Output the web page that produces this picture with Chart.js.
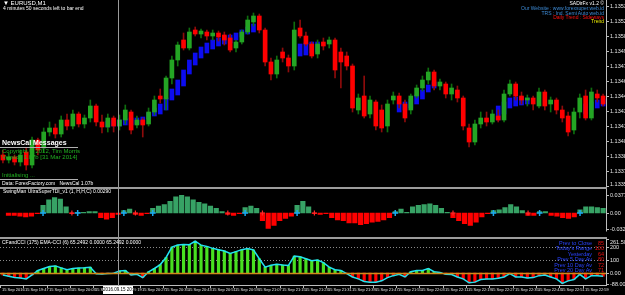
<!DOCTYPE html>
<html>
<head>
<meta charset="utf-8">
<script src="https://cdn.jsdelivr.net/npm/chart.js@4.4.1/dist/chart.umd.min.js"></script>
<style>
  html, body { margin: 0; padding: 0; background: #000; }
  body { width: 625px; height: 295px; position: relative; overflow: hidden; font-family: 'Liberation Sans', Arial, sans-serif; }
  canvas { position: absolute; left: 0; }
  .t { position: absolute; white-space: nowrap; line-height: 1; }
  .r { text-align: right; }
  .sep { position: absolute; left: 0; width: 607px; height: 2px; background: #9c9c9c; }
</style>
</head>
<body>
<canvas id="price" width="625" height="187" style="top:0"></canvas>
<canvas id="tdi" width="625" height="48" style="top:189px"></canvas>
<canvas id="cci" width="625" height="56" style="top:239px"></canvas>

<div class="sep" style="top:187px"></div>
<div class="sep" style="top:237px"></div>
<div style="position:absolute;left:118px;top:0;width:1px;height:286px;background:#9a9a9a"></div>

<div class="t" style="left:3px;top:0px;font-size:6px;color:#fff">&#9660; EURUSD,M1</div>
<div class="t" style="left:3px;top:6px;font-size:5px;color:#fff">4 minutes 50 seconds left to bar end</div>

<div class="t r" style="right:21px;top:1px;font-size:5px;color:#fff">SADirFx v1.2 &#169;</div>
<div class="t r" style="right:21px;top:6px;font-size:5px;color:#3d8bd6">Our Website : www.forexsuper.web.id</div>
<div class="t r" style="right:21px;top:10.5px;font-size:5px;color:#3d8bd6">TRS : Ind. Semi Auto web.id</div>
<div class="t r" style="right:21px;top:14.5px;font-size:5px;color:#ff1010">Daily Trend : Sideways</div>
<div class="t r" style="right:21px;top:18.5px;font-size:5px;color:#f0f000">Trend</div>

<div class="t" style="left:2px;top:139px;font-size:7px;font-weight:bold;color:#fff">NewsCal Messages</div>
<div style="position:absolute;left:0;top:147px;width:78px;height:1px;background:#b0b0b0"></div>
<div class="t" style="left:2px;top:148px;font-size:6px;color:#20b020">Copyright &#169; 2012, Tim Morris</div>
<div class="t" style="left:2px;top:154px;font-size:6px;color:#20b020">Version 1.07b [31 Mar 2014]</div>
<div class="t" style="left:2px;top:172px;font-size:6px;color:#20b020">Initialising ...</div>
<div style="position:absolute;left:0;top:179px;width:78px;height:1px;background:#b0b0b0"></div>
<div class="t" style="left:2px;top:180.5px;font-size:5px;color:#fff">Data: ForexFactory.com &nbsp; NewsCal 1.07b</div>

<div class="t" style="left:3px;top:189px;font-size:5px;color:#fff">SwingMan UltraSuperTDI_v1 (1, H,H,C) 0.00290</div>
<div class="t" style="left:2px;top:239.5px;font-size:5px;color:#fff">CFandCCI (175) EMA-CCI (6) 65.2492 0.0000 65.2492 0.0000</div>

<div class="t r" style="right:33px;top:240.5px;font-size:5.5px;color:#2a44ff">Prev to Close</div>
<div class="t r" style="right:33px;top:246px;font-size:5.5px;color:#2a44ff">Today's Range</div>
<div class="t r" style="right:33px;top:251.5px;font-size:5.5px;color:#2a44ff">Yesterday</div>
<div class="t r" style="right:33px;top:257px;font-size:5.5px;color:#2a44ff">Prev 5 Day Av</div>
<div class="t r" style="right:33px;top:262.5px;font-size:5.5px;color:#2a44ff">Prev 10 Day Av</div>
<div class="t r" style="right:33px;top:268px;font-size:5.5px;color:#2a44ff">Prev 20 Day Av</div>
<div class="t r" style="right:21px;top:240.5px;font-size:5.5px;color:#e81010">85</div>
<div class="t r" style="right:21px;top:246px;font-size:5.5px;color:#e81010">100</div>
<div class="t r" style="right:21px;top:251.5px;font-size:5.5px;color:#e81010">64</div>
<div class="t r" style="right:21px;top:257px;font-size:5.5px;color:#e81010">80</div>
<div class="t r" style="right:21px;top:262.5px;font-size:5.5px;color:#e81010">72</div>
<div class="t r" style="right:21px;top:268px;font-size:5.5px;color:#e81010">71</div>

<div class="t" style="left:103px;top:285.5px;width:30px;height:8px;background:#fff;color:#000;font-size:4.5px;line-height:8px;text-align:center">2016.09.15 20:19</div>

<script>
// EURUSD M1, 15 Sep 2016 - one entry per 2 minutes
const opens = [1.13386,1.13381,1.13384,1.13379,1.13389,1.13376,1.13401,1.13393,1.13409,1.13413,
  1.13407,1.13421,1.13415,1.13427,1.13417,1.13423,1.13435,1.13419,1.13414,1.13423,
  1.13415,1.13421,1.13429,1.13416,1.13421,1.13417,1.13429,1.13445,1.13442,1.13463,
  1.13481,1.13501,1.13493,1.13511,1.13507,1.13509,1.13505,1.13508,1.13506,1.13503,
  1.13493,1.13499,1.13509,1.13519,1.13525,1.13511,1.13479,1.13467,1.13489,1.13483,
  1.13475,1.13513,1.13505,1.13497,1.13487,1.13499,1.13497,1.13501,1.13489,1.13485,
  1.13475,1.13431,1.13445,1.13427,1.13439,1.13431,1.13415,1.13441,1.13445,1.13437,
  1.13431,1.13445,1.13453,1.13461,1.13469,1.13455,1.13457,1.13447,1.13451,1.13443,
  1.13413,1.13399,1.13417,1.13423,1.13419,1.13425,1.13421,1.13447,1.13457,1.13445,
  1.13441,1.13443,1.13435,1.13449,1.13437,1.13441,1.13431,1.13425,1.13411,1.13429,
  1.13445,1.13423,1.13447,1.13445];
const closes = [1.13381,1.13384,1.13379,1.13386,1.13376,1.13401,1.13391,1.13409,1.13413,1.13407,
  1.13421,1.13415,1.13427,1.13417,1.13423,1.13435,1.13419,1.13414,1.13423,1.13415,
  1.13421,1.13431,1.13411,1.13421,1.13416,1.13429,1.13441,1.13442,1.13463,1.13481,
  1.13496,1.13493,1.13509,1.13507,1.13510,1.13505,1.13508,1.13504,1.13501,1.13491,
  1.13499,1.13509,1.13521,1.13525,1.13511,1.13479,1.13467,1.13481,1.13483,1.13475,
  1.13511,1.13505,1.13497,1.13485,1.13497,1.13495,1.13501,1.13471,1.13479,1.13475,
  1.13433,1.13443,1.13425,1.13441,1.13415,1.13413,1.13437,1.13445,1.13437,1.13423,
  1.13445,1.13453,1.13461,1.13469,1.13455,1.13459,1.13447,1.13453,1.13443,1.13415,
  1.13399,1.13417,1.13423,1.13419,1.13427,1.13421,1.13447,1.13457,1.13445,1.13441,
  1.13443,1.13437,1.13449,1.13435,1.13441,1.13431,1.13423,1.13409,1.13429,1.13443,
  1.13423,1.13449,1.13443,1.13437];
const highs = [1.13391,1.13388,1.13386,1.13391,1.13393,1.13404,1.13403,1.13413,1.13419,1.13417,
  1.13425,1.13427,1.13431,1.13429,1.13426,1.13441,1.13437,1.13426,1.13427,1.13425,
  1.13426,1.13436,1.13431,1.13425,1.13423,1.13433,1.13445,1.13452,1.13465,1.13485,
  1.13499,1.13508,1.13513,1.13514,1.13512,1.13511,1.13511,1.13510,1.13509,1.13507,
  1.13501,1.13511,1.13525,1.13528,1.13527,1.13513,1.13483,1.13485,1.13493,1.13486,
  1.13519,1.13521,1.13509,1.13499,1.13501,1.13503,1.13504,1.13503,1.13493,1.13489,
  1.13477,1.13447,1.13465,1.13445,1.13441,1.13436,1.13441,1.13449,1.13448,1.13441,
  1.13447,1.13456,1.13465,1.13473,1.13471,1.13462,1.13459,1.13457,1.13455,1.13445,
  1.13417,1.13421,1.13429,1.13429,1.13431,1.13431,1.13451,1.13461,1.13459,1.13449,
  1.13446,1.13445,1.13453,1.13451,1.13444,1.13443,1.13435,1.13429,1.13433,1.13447,
  1.13451,1.13453,1.13451,1.13447];
const lows = [1.13378,1.13378,1.13376,1.13375,1.13371,1.13373,1.13386,1.13389,1.13405,1.13403,
  1.13404,1.13411,1.13412,1.13414,1.13413,1.13419,1.13415,1.13408,1.13409,1.13409,
  1.13411,1.13417,1.13407,1.13413,1.13404,1.13415,1.13426,1.13438,1.13431,1.13457,
  1.13475,1.13491,1.13491,1.13505,1.13503,1.13501,1.13501,1.13500,1.13496,1.13489,
  1.13489,1.13497,1.13507,1.13515,1.13508,1.13475,1.13461,1.13463,1.13479,1.13469,
  1.13471,1.13503,1.13495,1.13483,1.13483,1.13491,1.13493,1.13463,1.13453,1.13471,
  1.13429,1.13427,1.13423,1.13423,1.13411,1.13409,1.13409,1.13437,1.13433,1.13419,
  1.13427,1.13443,1.13450,1.13457,1.13451,1.13451,1.13443,1.13441,1.13439,1.13411,
  1.13394,1.13396,1.13413,1.13415,1.13417,1.13419,1.13419,1.13445,1.13441,1.13437,
  1.13435,1.13431,1.13433,1.13431,1.13429,1.13427,1.13419,1.13405,1.13407,1.13423,
  1.13421,1.13421,1.13439,1.13435];

// blue trend band (only on some bars)
const bandBars = [18,19,20,21,22,23,24,25,26,27,28,29,30,31,32,33,34,35,36,37,38,39,40,41,42,43,
  51,52,53,54, 68,69,70,71,72,73,74, 85,86,87,88,89,90, 100,101,102,103];
const bandLow = [1.13414,1.13415,1.13415,1.13416,1.13416,1.13417,1.13417,1.13422,1.13425,1.13427,
  1.13431,1.13441,1.13446,1.13455,1.13467,1.13476,1.13483,1.13488,1.13492,1.13495,1.13497,1.13498,
  1.13501,1.13504,1.13507,1.13509, 1.13485,1.13486,1.13488,1.13489,
  1.13429,1.13431,1.13433,1.13437,1.13442,1.13449,1.13453,
  1.13421,1.13427,1.13433,1.13435,1.13436,1.13437, 1.13427,1.13431,1.13433,1.13435];
const bandHigh = [1.13420,1.13421,1.13421,1.13422,1.13423,1.13423,1.13424,1.13428,1.13433,1.13437,
  1.13443,1.13452,1.13461,1.13471,1.13481,1.13488,1.13494,1.13498,1.13501,1.13503,1.13505,1.13506,
  1.13508,1.13511,1.13514,1.13517, 1.13497,1.13498,1.13499,1.13499,
  1.13437,1.13439,1.13442,1.13446,1.13451,1.13456,1.13459,
  1.13435,1.13439,1.13443,1.13444,1.13444,1.13443, 1.13437,1.13439,1.13441,1.13442];

// SuperTDI histogram
const tdi = [-0.0048,-0.0048,-0.0064,-0.0080,-0.0064,-0.0016,0.0160,0.0272,0.0320,0.0288,
  0.0128,-0.0016,0.0016,0.0016,0.0032,0.0032,-0.0096,-0.0128,-0.0096,-0.0032,
  0.0048,0.0080,-0.0032,-0.0048,-0.0016,0.0096,0.0144,0.0176,0.0240,0.0336,
  0.0368,0.0336,0.0272,0.0224,0.0192,0.0144,0.0096,0.0032,-0.0032,-0.0048,
  -0.0016,0.0112,0.0144,0.0096,-0.0160,-0.0320,-0.0256,-0.0160,-0.0112,-0.0064,
  0.0160,0.0240,0.0128,-0.0016,-0.0032,-0.0016,-0.0096,-0.0144,-0.0160,-0.0208,
  -0.0208,-0.0240,-0.0224,-0.0192,-0.0176,-0.0144,-0.0096,0.0032,0.0080,0.0016,
  0.0128,0.0160,0.0176,0.0192,0.0160,0.0096,0.0016,-0.0096,-0.0160,-0.0224,
  -0.0256,-0.0192,-0.0080,-0.0016,0.0048,0.0064,0.0112,0.0176,0.0128,0.0048,
  -0.0048,-0.0048,0.0032,0.0032,-0.0048,-0.0064,-0.0096,-0.0112,-0.0080,0.0064,
  0.0128,0.0128,0.0112,0.0096];
const tdiUpBars = [6, 12, 20, 25, 41, 50, 67, 84, 92, 99];
const tdiDownBars = [11, 22, 38, 44, 53, 77, 90];

// CCI
const cci = [-15,-25,-35,-38,-45,-15,20,35,50,55,
  40,25,35,38,40,45,-5,-8,-3,-2,
  15,20,-15,-10,-35,10,35,65,120,200,
  215,220,218,245,215,205,190,180,170,150,
  165,180,188,178,110,45,60,68,62,58,
  130,125,110,95,100,80,45,25,20,-5,
  -30,-45,-65,-70,-70,-60,-35,-20,-10,-30,
  10,20,20,35,10,5,-10,-12,-30,-45,
  -75,-70,-50,-45,-45,-40,-30,-5,-30,-30,
  -38,-35,-20,-15,-30,-45,-80,-60,-50,-10,
  -45,-20,-20,-25];
const cciLevels = [200, 100];

// axes
const priceTicks = [1.13535,1.13520,1.13505,1.13490,1.13475,1.13460,1.13445,1.13430,1.13415,1.13400,1.13385,1.13370,1.13355];
const priceMin = 1.13354, priceMax = 1.13541;
const tdiTicks = [0.03776, 0, -0.0322];
const tdiTickLabels = ['0.03776', '0.00', '-0.0322'];
const tdiMin = -0.0384, tdiMax = 0.0384;
const cciTicks = [261.5, 200, 100, 0, -88];
const cciTickLabels = ['261.504', '200', '100', '0.00', '-88.000'];
const cciMin = -92, cciMax = 262;
const timeLabels = ['15 Sep 2016','15 Sep 19:47','15 Sep 19:55','15 Sep 20:03','15 Sep 20:11','15 Sep 20:19',
  '15 Sep 20:27','15 Sep 20:35','15 Sep 20:43','15 Sep 20:51','15 Sep 20:59','15 Sep 21:07','15 Sep 21:15',
  '15 Sep 21:23','15 Sep 21:31','15 Sep 21:39','15 Sep 21:47','15 Sep 21:55','15 Sep 22:03','15 Sep 22:11',
  '15 Sep 22:19','15 Sep 22:27','15 Sep 22:35','15 Sep 22:43','15 Sep 22:51','15 Sep 22:59'];
const LABEL_EVERY = 4;

const FONT = '"Liberation Sans", Arial, sans-serif';
const labels = opens.map((_, i) => i);
const isUp = closes.map((c, i) => c >= opens[i]);

const band = opens.map(() => null);
bandBars.forEach((b, k) => { band[b] = [bandLow[k], bandHigh[k]]; });
const upMarks = tdi.map(() => null);
tdiUpBars.forEach(b => { upMarks[b] = 0; });
const downMarks = tdi.map(() => null);
tdiDownBars.forEach(b => { downMarks[b] = 0; });

// right side price scale drawn like the terminal
function rightAxis(ticks, tickText) {
    return {
        id: 'rightAxis',
        afterDraw(chart) {
            const { ctx, chartArea: a } = chart;
            const y = chart.scales.y;
            ctx.save();
            ctx.strokeStyle = '#bdbdbd';
            ctx.lineWidth = 1;
            ctx.beginPath();
            ctx.moveTo(a.right + 0.5, 0);
            ctx.lineTo(a.right + 0.5, a.bottom);
            ctx.stroke();
            ctx.fillStyle = '#e4e4e4';
            ctx.font = '5.5px ' + FONT;
            ctx.textBaseline = 'middle';
            ticks.forEach((v, k) => {
                const py = Math.round(y.getPixelForValue(v)) + 0.5;
                ctx.beginPath();
                ctx.moveTo(a.right, py);
                ctx.lineTo(a.right + 3, py);
                ctx.stroke();
                const ty = Math.min(Math.max(py, 3), chart.height - 3);
                ctx.fillText(tickText[k], a.right + 4, ty);
            });
            ctx.restore();
        }
    };
}

const levelLines = {
    id: 'levelLines',
    beforeDatasetsDraw(chart) {
        const { ctx, chartArea: a } = chart;
        const y = chart.scales.y;
        ctx.save();
        ctx.strokeStyle = '#8a8a8a';
        ctx.setLineDash([1, 2]);
        cciLevels.forEach(v => {
            const py = Math.round(y.getPixelForValue(v)) + 0.5;
            ctx.beginPath(); ctx.moveTo(a.left, py); ctx.lineTo(a.right, py); ctx.stroke();
        });
        ctx.restore();
    },
    afterDatasetsDraw(chart) {
        const { ctx, chartArea: a } = chart;
        const py = Math.round(chart.scales.y.getPixelForValue(0)) + 0.5;
        ctx.save();
        ctx.strokeStyle = '#d08a1a';
        ctx.lineWidth = 1.5;
        ctx.beginPath(); ctx.moveTo(a.left, py); ctx.lineTo(a.right, py); ctx.stroke();
        ctx.restore();
    }
};

const timeAxis = {
    id: 'timeAxis',
    afterDraw(chart) {
        const { ctx, chartArea: a } = chart;
        const x = chart.scales.x;
        ctx.save();
        ctx.strokeStyle = '#bdbdbd';
        ctx.beginPath();
        ctx.moveTo(0, a.bottom + 0.5);
        ctx.lineTo(a.right + 1, a.bottom + 0.5);
        ctx.stroke();
        ctx.fillStyle = '#e4e4e4';
        ctx.font = '4px ' + FONT;
        ctx.textBaseline = 'middle';
        timeLabels.forEach((s, k) => {
            const px = Math.round(x.getPixelForValue(k * LABEL_EVERY)) - 2.5;
            ctx.beginPath();
            ctx.moveTo(px, a.bottom);
            ctx.lineTo(px, a.bottom + 3);
            ctx.stroke();
            ctx.fillText(s, px + 1.5, a.bottom + 5);
        });
        ctx.restore();
    }
};

function baseOptions(min, max, bottom) {
    return {
        responsive: false,
        animation: false,
        layout: { padding: { left: 0, right: 19, top: 0, bottom: bottom } },
        plugins: { legend: { display: false }, tooltip: { enabled: false } },
        scales: {
            x: { type: 'category', display: false, offset: true },
            y: { display: false, min: min, max: max }
        }
    };
}

new Chart('price', {
    type: 'bar',
    data: {
        labels: labels,
        datasets: [{
            data: band,
            backgroundColor: '#0c0cf0',
            barThickness: 4,
            grouped: false,
            order: 3
        }, {
            data: lows.map((l, i) => [l, highs[i]]),
            backgroundColor: isUp.map(u => u ? '#0e6e0e' : '#8e0b0b'),
            barThickness: 1,
            grouped: false,
            order: 2
        }, {
            data: opens.map((o, i) => [o, closes[i]]),
            backgroundColor: isUp.map(u => u ? '#24a524' : '#ff0000'),
            barThickness: 4,
            minBarLength: 1,
            grouped: false,
            order: 1
        }]
    },
    options: baseOptions(priceMin, priceMax, 0),
    plugins: [rightAxis(priceTicks, priceTicks.map(v => v.toFixed(5)))]
});

new Chart('tdi', {
    type: 'bar',
    data: {
        labels: labels,
        datasets: [{
            type: 'line',
            data: upMarks,
            showLine: false,
            pointStyle: 'cross',
            pointRadius: 3,
            pointBorderWidth: 1.5,
            pointBorderColor: '#1aa8f0',
            borderColor: '#1aa8f0',
            order: 0
        }, {
            type: 'line',
            data: downMarks,
            showLine: false,
            pointStyle: 'cross',
            pointRadius: 2.5,
            pointBorderWidth: 1.2,
            pointBorderColor: '#ff2a2a',
            borderColor: '#ff2a2a',
            order: 0
        }, {
            data: tdi,
            backgroundColor: tdi.map(v => v >= 0 ? '#37a265' : '#ff0000'),
            barThickness: 4.5,
            grouped: false,
            order: 1
        }]
    },
    options: baseOptions(tdiMin, tdiMax, 0),
    plugins: [rightAxis(tdiTicks, tdiTickLabels)]
});

new Chart('cci', {
    type: 'bar',
    data: {
        labels: labels,
        datasets: [{
            type: 'line',
            data: cci,
            borderColor: '#22e2f0',
            borderWidth: 1.5,
            pointRadius: 0,
            tension: 0,
            order: 0
        }, {
            data: cci,
            backgroundColor: cci.map(v => v >= 0 ? '#48e020' : '#ff0000'),
            barThickness: 2.5,
            grouped: false,
            order: 1
        }]
    },
    options: baseOptions(cciMin, cciMax, 10),
    plugins: [levelLines, rightAxis(cciTicks, cciTickLabels), timeAxis]
});
</script>
</body>
</html>
